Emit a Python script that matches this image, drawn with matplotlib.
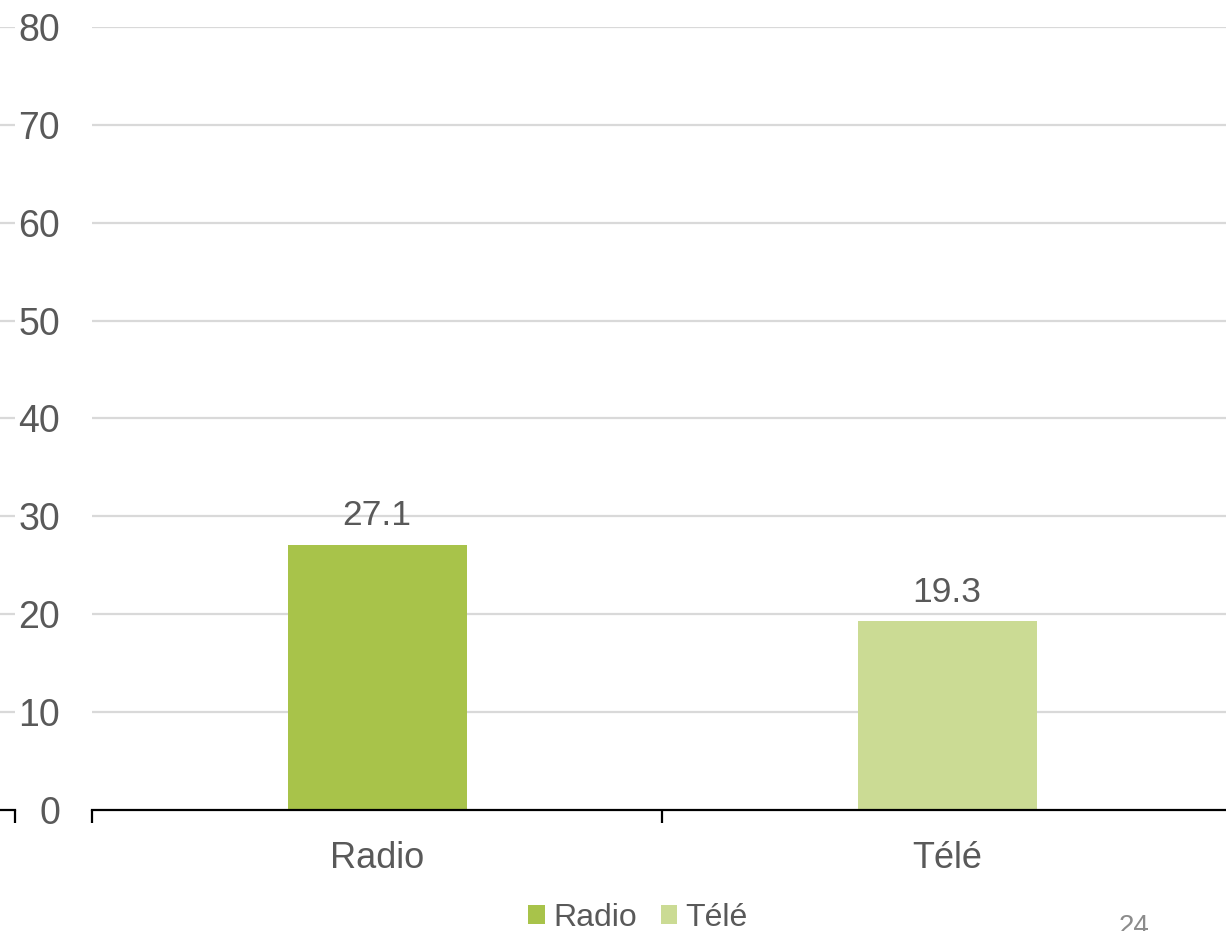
import matplotlib.pyplot as plt
from matplotlib.patches import Patch

# categories and values
categories = ['Radio', 'Télé']
values = [27.1, 19.3]
colors = ['#A8C34A', '#CBDB94']
y_ticks = [0, 10, 20, 30, 40, 50, 60, 70, 80]

plt.rcParams['font.family'] = ['Liberation Sans', 'DejaVu Sans']
text_color = '#595959'
grid_color = '#D9D9D9'

W, H = 1226, 931
fig = plt.figure(figsize=(W / 100, H / 100), dpi=100)

# plot area spans 92px..1232px horizontally, 27px..810px vertically
ax = fig.add_axes([92 / W, (H - 810) / H, (1232 - 92) / W, (810 - 27) / H])

# neighbouring panel edge on the left (only gridlines and axis stub show)
ax_left = fig.add_axes([-200 / W, (H - 810) / H, 215 / W, (810 - 27) / H])
ax_left.set_xlim(0, 1)
ax_left.set_ylim(0, 80)
for y in y_ticks[1:]:
    ax_left.axhline(y, color=grid_color, lw=1.6, zorder=0)
for s in ['top', 'right', 'left']:
    ax_left.spines[s].set_visible(False)
ax_left.spines['bottom'].set_linewidth(1.6)
ax_left.set_xticks([1])
ax_left.set_xticklabels([])
ax_left.set_yticks([])
ax_left.tick_params(axis='x', length=9, width=1.6, direction='out')

x = list(range(len(categories)))
bars = ax.bar(x, values, width=179 / 570, color=colors, zorder=2)

ax.set_xlim(-0.5, 1.5)
ax.set_ylim(0, 80)
ax.set_yticks(y_ticks)
ax.set_yticklabels([str(t) for t in y_ticks], fontsize=27, color=text_color)
ax.tick_params(axis='y', length=0, pad=23)
for y in y_ticks[1:]:
    ax.axhline(y, color=grid_color, lw=1.6, zorder=0)

ax.set_xticks(x)
ax.set_xticklabels(categories, fontsize=26, color=text_color)
ax.tick_params(axis='x', which='major', length=0, pad=22)
ax.set_xticks([-0.5, 0.5, 1.5], minor=True)
ax.tick_params(axis='x', which='minor', length=9, width=1.6, direction='out')

for s in ['top', 'right', 'left']:
    ax.spines[s].set_visible(False)
ax.spines['bottom'].set_linewidth(1.6)

# value labels above bars
for xi, v in zip(x, values):
    ax.annotate(f'{v}', (xi, v), xytext=(0, 14), textcoords='offset points',
                ha='center', va='baseline', fontsize=25.5, color=text_color)

handles = [Patch(facecolor=c, edgecolor='none') for c in colors]
fig.legend(handles, categories, loc='center', bbox_to_anchor=(638 / W, (H - 918) / H),
           ncol=2, frameon=False, fontsize=23, labelcolor=text_color,
           handlelength=0.52, handleheight=0.52, handletextpad=0.25,
           columnspacing=0.75, borderpad=0)

# page number
fig.text(1134 / W, (H - 914) / H, '24', ha='center', va='top', fontsize=20,
         color='#8C8C8C')

fig.savefig('out.png', dpi=100)
